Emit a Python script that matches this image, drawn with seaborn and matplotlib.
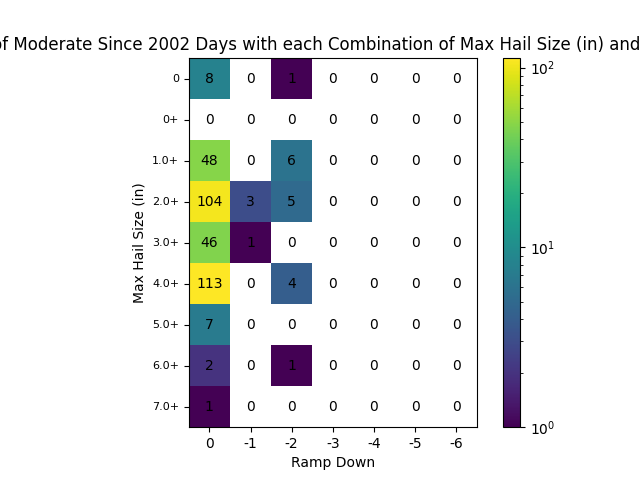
import numpy as np
import pandas as pd
import seaborn as sns
import matplotlib
matplotlib.use("Agg")
import matplotlib.pyplot as plt
from matplotlib.colors import LogNorm

ramp_labels = ["0", "-1", "-2", "-3", "-4", "-5", "-6"]
hail_labels = ["0", "0+", "1.0+", "2.0+", "3.0+", "4.0+", "5.0+", "6.0+", "7.0+"]
col_0 = [8, 0, 48, 104, 46, 113, 7, 2, 1]
col_m1 = [0, 0, 0, 3, 1, 0, 0, 0, 0]
col_m2 = [1, 0, 6, 5, 0, 4, 0, 1, 0]
col_rest = [0] * 9

df = pd.DataFrame({"0": col_0, "-1": col_m1, "-2": col_m2, "-3": col_rest,
                   "-4": col_rest, "-5": col_rest, "-6": col_rest}, index=hail_labels)

fig = plt.figure(figsize=(6.4, 4.8), dpi=100)
ax = fig.add_axes([0.295, 0.110, 0.45, 0.769])
cax = fig.add_axes([0.786, 0.110, 0.027, 0.769])
sns.heatmap(df, mask=(df == 0), cmap="viridis", norm=LogNorm(vmin=1, vmax=df.values.max()),
            ax=ax, cbar_ax=cax, annot=False)
cbar = ax.collections[0].colorbar
cbar.outline.set_visible(True)
cbar.outline.set_linewidth(0.8)
cbar.outline.set_edgecolor("black")
for i in range(df.shape[0]):
    for j in range(df.shape[1]):
        ax.text(j + 0.5, i + 0.5, str(df.iat[i, j]), ha="center", va="center", fontsize=10, color="black")
for s in ax.spines.values():
    s.set_visible(True)
    s.set_linewidth(0.8)
ax.set_xticklabels(ramp_labels, rotation=0, fontsize=10)
ax.set_yticklabels(hail_labels, rotation=0, fontsize=8)
ax.set_xlabel("Ramp Down")
ax.set_ylabel("Max Hail Size (in)")
ax.set_title("Number of Moderate Since 2002 Days with each Combination of Max Hail Size (in) and Ramp Down", fontsize=12)
fig.savefig("out.png", dpi=100)
